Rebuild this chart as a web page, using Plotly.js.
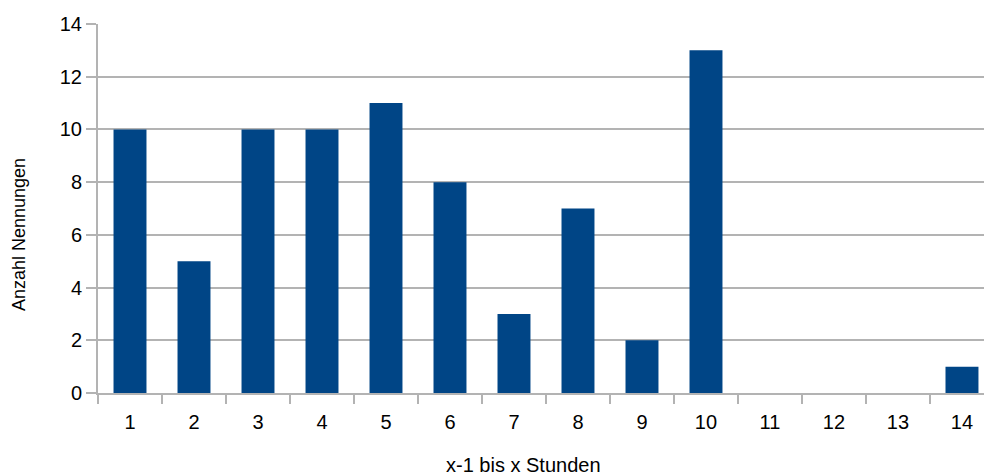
<!DOCTYPE html>
<html>
<head>
<meta charset="utf-8">
<script src="https://cdn.plot.ly/plotly-3.0.1.min.js"></script>
<style>html,body{margin:0;padding:0;background:#fff;}#chart{width:984px;height:476px;}</style>
</head>
<body>
<div id="chart"></div>
<script>
const categories = ['1','2','3','4','5','6','7','8','9','10','11','12','13','14'];
const counts = [10, 5, 10, 10, 11, 8, 3, 7, 2, 13, 0, 0, 0, 1];
const xTitle = 'x-1 bis x Stunden';
const yTitle = 'Anzahl Nennungen';

const fam = '"Liberation Sans", Arial, sans-serif';
const tickFont = {family: fam, size: 20, color: '#000'};

Plotly.newPlot('chart', [{
  type: 'bar',
  x: categories,
  y: counts,
  marker: {color: '#004586'},
  hoverinfo: 'skip'
}], {
  width: 984, height: 476,
  margin: {l: 98, r: 0, t: 24, b: 83},
  paper_bgcolor: '#fff', plot_bgcolor: '#fff',
  font: tickFont,
  bargap: 0.485,
  showlegend: false,
  xaxis: {
    type: 'category',
    range: [-0.5, 13.344],
    tickson: 'boundaries',
    ticks: 'outside', ticklen: 9, tickcolor: '#b3b3b3', tickwidth: 2,
    ticklabelstandoff: 10,
    showgrid: false, zeroline: false,
    showline: true, linecolor: '#b3b3b3', linewidth: 2,
    tickfont: tickFont
  },
  yaxis: {
    range: [0, 14],
    dtick: 2,
    ticks: 'outside', ticklen: 10, tickcolor: '#b3b3b3', tickwidth: 2,
    showgrid: true, gridcolor: '#b3b3b3', gridwidth: 2,
    zeroline: false,
    showline: true, linecolor: '#b3b3b3', linewidth: 2,
    tickfont: tickFont
  },
  annotations: [{
    text: xTitle, xref: 'paper', yref: 'paper',
    x: 0.480, y: 0, yshift: -72, xanchor: 'center', yanchor: 'middle',
    showarrow: false, font: {family: fam, size: 20, color: '#000'}
  }, {
    text: yTitle, xref: 'paper', yref: 'paper', textangle: -90,
    x: -0.0897, y: 0.4295, xanchor: 'center', yanchor: 'middle',
    showarrow: false, font: {family: fam, size: 18, color: '#000'}
  }]
}, {displayModeBar: false, staticPlot: true});
</script>
</body>
</html>
